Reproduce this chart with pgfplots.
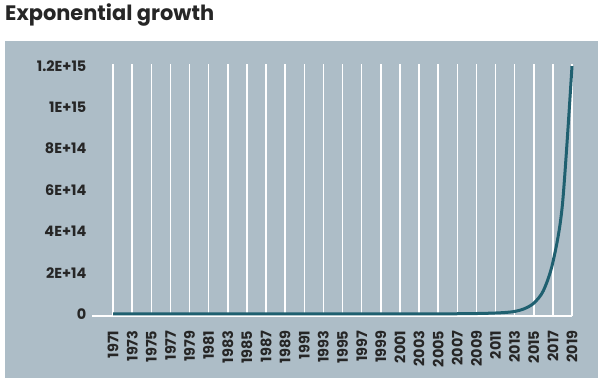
\documentclass[border=0pt]{standalone}
\usepackage{pgfplots}
\pgfplotsset{compat=1.18}
\usepackage{pgfplotstable}
\usepackage{fontspec}
\setmainfont{Poppins}
\definecolor{panel}{RGB}{173,189,199}
\definecolor{teal}{RGB}{31,96,112}
\pgfplotstableread{
year value
1971 0
1972 0
1973 0
1974 0
1975 0
1976 0
1977 0
1978 0
1979 0
1980 0
1981 0
1982 0
1983 0
1984 0
1985 0
1986 0
1987 0
1988 0
1989 0
1990 0
1991 0
1992 0
1993 0
1994 0
1995 0
1996 0
1997 0
1998 0
1999 1e10
2000 2e10
2001 4e10
2002 8e10
2003 1.5e11
2004 2.5e11
2005 4e11
2006 6e11
2007 9e11
2008 1.3e12
2009 2e12
2010 3e12
2011 4.5e12
2012 7e12
2013 1.2e13
2014 2.5e13
2015 5.2e13
2016 1.12e14
2017 2.5e14
2018 5.3e14
2019 1.2e15
}\growth
\begin{document}
\begin{tikzpicture}
\useasboundingbox (0,0) rectangle (603bp,382bp);
\fill[white] (0,0) rectangle (603bp,382bp);
\fill[panel] (5bp,4bp) rectangle (598bp,341bp);
\node[anchor=base west, inner sep=0pt, font=\fontsize{21}{25}\selectfont\bfseries, text=black!85] at (5bp,361.3bp) {Exponential growth};
\begin{axis}[
  at={(92bp,66bp)}, anchor=south west,
  scale only axis, width=480bp, height=252bp,
  xmin=1968.8, xmax=2019,
  ymin=-1e13, ymax=1.21e15,
  scaled y ticks=false,
  clip=false,
  axis x line=bottom, axis y line=left,
  x axis line style={draw=white, line width=1.5bp, -},
  y axis line style={draw=none},
  major tick style={draw=none},
  xtick={1971,1973,...,2019},
  xticklabel shift=9bp,
  xticklabel style={rotate=90, anchor=east, font=\fontsize{14.5}{16}\selectfont\bfseries, text=black!85},
  xticklabel={\pgfmathprintnumber[int detect, 1000 sep={}]{\tick}},
  xmajorgrids,
  grid style={white, line width=1.5bp},
  ytick={0,2e14,4e14,6e14,8e14,1e15,1.2e15},
  yticklabels={0,2E+14,4E+14,6E+14,8E+14,1E+15,1.2E+15},
  yticklabel style={font=\fontsize{14.5}{16}\selectfont\bfseries, text=black!85, anchor=east},
  xtick pos=bottom,
  /pgf/number format/assume math mode=true,
]
\addplot[teal, line width=3bp, smooth, line cap=butt] table[x=year, y=value] {\growth};
\end{axis}
\end{tikzpicture}
\end{document}
